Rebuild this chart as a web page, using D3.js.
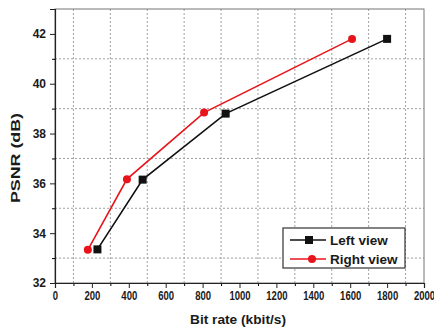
<!DOCTYPE html>
<html lang="en">
<head>
<meta charset="UTF-8">
<title>PSNR vs Bit rate</title>
<style>
    body { margin: 0; background: #fff; }
    svg { display: block; font-family: "Liberation Sans", Arial, sans-serif; }
    .tick text { font-size: 12px; font-weight: bold; fill: #1a1a1a; }
    .axis-title { font-size: 12.5px; font-weight: bold; fill: #1a1a1a; }
    .grid line { stroke: #a0a0a0; stroke-width: 1; stroke-dasharray: 2,2; }
    .legend-text { font-size: 13.5px; font-weight: bold; fill: #1a1a1a; }
</style>
</head>
<body>
<svg id="chart" width="434" height="331"></svg>
<script src="https://d3js.org/d3.v7.min.js"></script>
<script>
    // --- data ---
    const leftRate = [230, 475, 925, 1800];
    const leftPsnr = [33.35, 36.15, 38.8, 41.8];
    const rightRate = [178, 390, 808, 1610];
    const rightPsnr = [33.33, 36.17, 38.84, 41.8];
    const xTicks = [0, 200, 400, 600, 800, 1000, 1200, 1400, 1600, 1800, 2000];
    const yTicks = [32, 34, 36, 38, 40, 42];
    const xGrid = [100, 300, 500, 700, 900, 1100, 1300, 1500, 1700, 1900];
    const yGrid = [33, 35, 37, 39, 41];

    const svg = d3.select("#chart");
    const margin = { top: 9, right: 10, bottom: 48, left: 55 };
    const width = 434 - margin.left - margin.right;
    const height = 331 - margin.top - margin.bottom;
    const g = svg.append("g").attr("transform", `translate(${margin.left},${margin.top})`);

    const x = d3.scaleLinear().domain([0, 2000]).range([0, width]);
    const y = d3.scaleLinear().domain([32, 43]).range([height, 0]);

    // dotted grid at the odd (minor) positions
    g.append("g").attr("class", "grid")
        .selectAll("line").data(xGrid).enter().append("line")
        .attr("x1", d => x(d)).attr("x2", d => x(d))
        .attr("y1", 0).attr("y2", height);
    g.append("g").attr("class", "grid")
        .selectAll("line").data(yGrid).enter().append("line")
        .attr("x1", 0).attr("x2", width)
        .attr("y1", d => y(d)).attr("y2", d => y(d));

    // frame (top/right)
    g.append("rect")
        .attr("width", width).attr("height", height)
        .attr("fill", "none").attr("stroke", "#777").attr("stroke-width", 1);

    // minor ticks
    g.append("g").attr("transform", `translate(0,${height})`)
        .call(d3.axisBottom(x).tickValues(xGrid).tickSize(3).tickFormat(""))
        .call(a => a.select(".domain").remove());
    g.append("g")
        .call(d3.axisLeft(y).tickValues(yGrid).tickSize(3).tickFormat(""))
        .call(a => a.select(".domain").remove());

    // major axes
    const xAxis = g.append("g").attr("transform", `translate(0,${height})`)
        .call(d3.axisBottom(x).tickValues(xTicks).tickSize(5).tickPadding(3).tickFormat(d3.format("d")));
    const yAxis = g.append("g")
        .call(d3.axisLeft(y).tickValues(yTicks).tickSize(5).tickPadding(4).tickFormat(d3.format("d")));
    [xAxis, yAxis].forEach(a => {
        a.select(".domain").attr("stroke", "#222").attr("stroke-width", 1.2);
        a.selectAll(".tick line").attr("stroke", "#222");
    });
    // the x labels are narrow in the reference
    xAxis.selectAll(".tick text")
        .attr("textLength", d => String(d).length * 5.3)
        .attr("lengthAdjust", "spacingAndGlyphs");

    // axis titles
    svg.append("text").attr("class", "axis-title")
        .attr("x", 238).attr("y", 324).attr("text-anchor", "middle")
        .attr("textLength", 96).attr("lengthAdjust", "spacingAndGlyphs")
        .text("Bit rate (kbit/s)");
    svg.append("text").attr("class", "axis-title")
        .attr("transform", "translate(20,158) rotate(-90)")
        .attr("text-anchor", "middle")
        .attr("textLength", 90).attr("lengthAdjust", "spacingAndGlyphs")
        .text("PSNR (dB)");

    // series
    const line = d3.line().x(d => x(d[0])).y(d => y(d[1]));
    const leftPts = leftRate.map((r, i) => [r, leftPsnr[i]]);
    const rightPts = rightRate.map((r, i) => [r, rightPsnr[i]]);

    g.append("path").datum(leftPts).attr("d", line)
        .attr("fill", "none").attr("stroke", "#111").attr("stroke-width", 1.6);
    g.append("path").datum(rightPts).attr("d", line)
        .attr("fill", "none").attr("stroke", "#e8141b").attr("stroke-width", 1.6);

    g.selectAll(".sq").data(leftPts).enter().append("rect")
        .attr("x", d => x(d[0]) - 4).attr("y", d => y(d[1]) - 4)
        .attr("width", 8).attr("height", 8).attr("fill", "#111");
    g.selectAll(".dot").data(rightPts).enter().append("circle")
        .attr("cx", d => x(d[0])).attr("cy", d => y(d[1]))
        .attr("r", 4).attr("fill", "#e8141b");

    // legend
    const lg = svg.append("g").attr("transform", "translate(283,228)");
    lg.append("rect").attr("width", 122).attr("height", 40)
        .attr("fill", "#fff").attr("stroke", "#333").attr("stroke-width", 1.2);
    const entries = [
        { name: "Left view", color: "#111", shape: "square" },
        { name: "Right view", color: "#e8141b", shape: "circle" }
    ];
    entries.forEach((e, i) => {
        const cy = 12 + i * 19;
        lg.append("line").attr("x1", 7).attr("x2", 43).attr("y1", cy).attr("y2", cy)
            .attr("stroke", e.color).attr("stroke-width", 1.6);
        if (e.shape === "square") {
            lg.append("rect").attr("x", 26 - 4).attr("y", cy - 4).attr("width", 8).attr("height", 8).attr("fill", e.color);
        } else {
            lg.append("circle").attr("cx", 29).attr("cy", cy).attr("r", 4).attr("fill", e.color);
        }
        lg.append("text").attr("class", "legend-text")
            .attr("x", 47).attr("y", cy + 5).text(e.name);
    });
</script>
</body>
</html>
